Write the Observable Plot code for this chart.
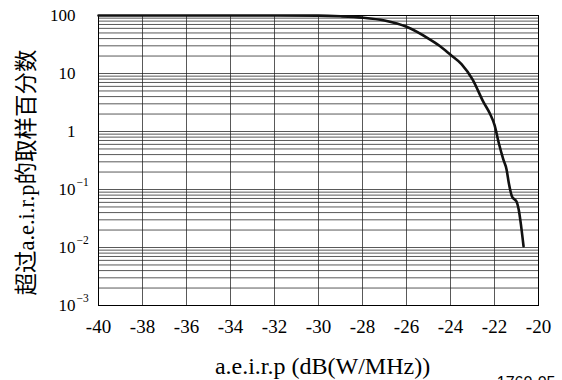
<!DOCTYPE html>
<html>
<head>
<meta charset="utf-8">
<script src="https://cdn.jsdelivr.net/npm/d3@7"></script>
<script src="https://cdn.jsdelivr.net/npm/@observablehq/plot@0.6"></script>
<style>
  html, body { margin: 0; padding: 0; background: #fff; }
  svg { display: block; }
  #chart svg text { font-family: "Liberation Serif", "Times New Roman", "Noto Sans CJK SC", serif; }
  #chart svg text.note, #chart svg g.note text { font-family: "Liberation Sans", Arial, sans-serif; }
</style>
</head>
<body>
<div id="chart"></div>
<script>
// Curve: a.e.i.r.p (dB(W/MHz)) vs percentage of samples exceeding it
const eirp = [-40, -34, -30, -29, -28, -27, -26, -25, -24.5, -24, -23.5, -23, -22.5, -22.2, -22, -21.8, -21.6, -21.45, -21.35, -21.2, -21.1, -21.0, -20.9, -20.8, -20.68];
const percent = [100, 100, 99.5, 97, 92, 82, 64, 40, 30, 21, 14.5, 7.9, 3.2, 2.0, 1.3, 0.62, 0.33, 0.22, 0.13, 0.075, 0.068, 0.062, 0.045, 0.025, 0.0105];

// Axis ticks and labels
const xTicks = [-40, -38, -36, -34, -32, -30, -28, -26, -24, -22, -20];
const yTicks = [0.001, 0.01, 0.1, 1, 10, 100];
const yTickBase = ["10", "10", "10", "1", "10", "100"];
const yTickExp = ["−3", "−2", "−1", "", "", ""];
const yGrid = [];
for (let e = -3; e <= 1; e++) for (let m = 1; m <= 9; m++) yGrid.push(m * Math.pow(10, e));
yGrid.push(100);

const xLabel = "a.e.i.r.p (dB(W/MHz))";
const yLabel = "超过a.e.i.r.p的取样百分数";
const figNote = "1760-05";

const data = eirp.map((x, i) => ({x, y: percent[i]}));
const yt = yTicks.map((v, i) => ({v, base: yTickBase[i], exp: yTickExp[i]}));

const serif = "Liberation Serif, Times New Roman, Noto Sans CJK SC, serif";
const sans = "Liberation Sans, Arial, sans-serif";

const chart = Plot.plot({
  width: 562,
  height: 380,
  marginLeft: 98,
  marginRight: 24,
  marginTop: 15,
  marginBottom: 75,
  style: {color: "#000", background: "#fff"},
  x: {domain: [-40, -20]},
  y: {type: "log", domain: [0.001, 100]},
  marks: [
    Plot.gridY(yGrid, {stroke: "#222", strokeOpacity: 0.75, strokeWidth: 1}),
    Plot.gridX(xTicks, {stroke: "#222", strokeOpacity: 0.75, strokeWidth: 1}),
    Plot.frame({stroke: "#000", strokeWidth: 1}),
    Plot.line(data, {x: "x", y: "y", stroke: "#111", strokeWidth: 2.6, curve: "monotone-x"}),
    Plot.axisX(xTicks, {tickSize: 0, tickPadding: 14, fontSize: 19, fontFamily: serif, tickFormat: d => String(d), label: null}),
    Plot.axisY([], {label: null}),
    Plot.text(yt, {y: "v", text: "base", frameAnchor: "left", textAnchor: "end", dx: -23, fontSize: 17, fontFamily: serif}),
    Plot.text(yt, {y: "v", text: "exp", frameAnchor: "left", textAnchor: "start", dx: -22, dy: -7, fontSize: 11.5, fontFamily: serif}),
    Plot.text([xLabel], {text: d => d, frameAnchor: "bottom", lineAnchor: "top", dx: 4, dy: 51, fontSize: 24, fontFamily: serif}),
    Plot.text([yLabel], {text: d => d, frameAnchor: "left", textAnchor: "middle", rotate: -90, dx: -72, dy: 12, fontSize: 22.5, fontFamily: serif}),
    Plot.text([figNote], {text: d => d, frameAnchor: "bottom-right", textAnchor: "end", lineAnchor: "top", dx: 17, dy: 71, fontSize: 16, fontFamily: sans, className: "note"})
  ]
});
document.getElementById("chart").appendChild(chart);
</script>
</body>
</html>
